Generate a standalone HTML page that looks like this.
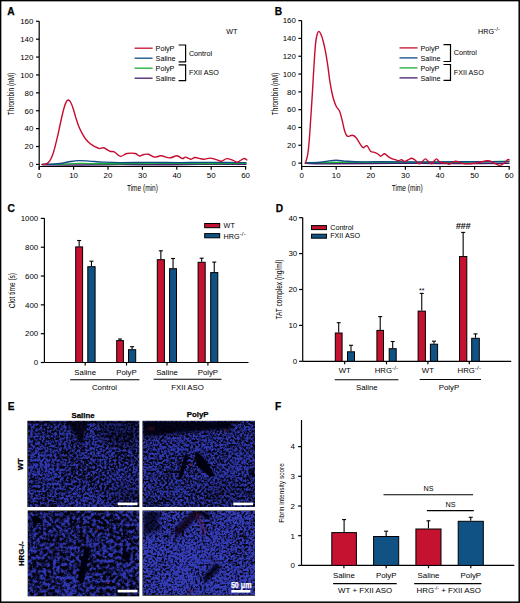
<!DOCTYPE html>
<html><head><meta charset="utf-8"><style>
html,body{margin:0;padding:0;background:#fff;}
svg{display:block;}
text{font-family:"Liberation Sans", sans-serif;}
</style></head><body>
<svg width="520" height="603" viewBox="0 0 520 603" font-family="Liberation Sans, sans-serif">
<rect width="520" height="603" fill="#fff"/>
<defs><filter id="t1" x="0" y="0" width="100%" height="100%" filterUnits="objectBoundingBox" color-interpolation-filters="sRGB">
<feTurbulence type="fractalNoise" baseFrequency="0.42" numOctaves="3" seed="2" result="n1"/>
<feColorMatrix in="n1" type="matrix" values="0 0 0 0 0  0 0 0 0 0  1 0 0 0 0  0 0 0 0 1" result="h"/>
<feTurbulence type="fractalNoise" baseFrequency="0.035" numOctaves="2" seed="22" result="n2"/>
<feColorMatrix in="n2" type="matrix" values="0 0 0 0 0  0 0 0 0 0  1 0 0 0 0  0 0 0 0 1" result="l"/>
<feComposite in="h" in2="l" operator="arithmetic" k1="0" k2="1" k3="0.2" k4="-0.1"/>
<feComponentTransfer><feFuncB type="linear" slope="3.9" intercept="-1.45"/></feComponentTransfer>
<feColorMatrix type="matrix" values="0 0 0.17 0 0.015  0 0 0.2 0 0.015  0 0 0.62 0 0.06  0 0 0 0 1"/>
<feGaussianBlur stdDeviation="0.45"/>
</filter><filter id="t2" x="0" y="0" width="100%" height="100%" filterUnits="objectBoundingBox" color-interpolation-filters="sRGB">
<feTurbulence type="fractalNoise" baseFrequency="0.45" numOctaves="3" seed="7" result="n1"/>
<feColorMatrix in="n1" type="matrix" values="0 0 0 0 0  0 0 0 0 0  1 0 0 0 0  0 0 0 0 1" result="h"/>
<feTurbulence type="fractalNoise" baseFrequency="0.035" numOctaves="2" seed="27" result="n2"/>
<feColorMatrix in="n2" type="matrix" values="0 0 0 0 0  0 0 0 0 0  1 0 0 0 0  0 0 0 0 1" result="l"/>
<feComposite in="h" in2="l" operator="arithmetic" k1="0" k2="1" k3="0.2" k4="-0.1"/>
<feComponentTransfer><feFuncB type="linear" slope="3.8" intercept="-1.35"/></feComponentTransfer>
<feColorMatrix type="matrix" values="0 0 0.17 0 0.015  0 0 0.2 0 0.015  0 0 0.62 0 0.06  0 0 0 0 1"/>
<feGaussianBlur stdDeviation="0.45"/>
</filter><filter id="t3" x="0" y="0" width="100%" height="100%" filterUnits="objectBoundingBox" color-interpolation-filters="sRGB">
<feTurbulence type="fractalNoise" baseFrequency="0.3" numOctaves="3" seed="11" result="n1"/>
<feColorMatrix in="n1" type="matrix" values="0 0 0 0 0  0 0 0 0 0  1 0 0 0 0  0 0 0 0 1" result="h"/>
<feTurbulence type="fractalNoise" baseFrequency="0.035" numOctaves="2" seed="31" result="n2"/>
<feColorMatrix in="n2" type="matrix" values="0 0 0 0 0  0 0 0 0 0  1 0 0 0 0  0 0 0 0 1" result="l"/>
<feComposite in="h" in2="l" operator="arithmetic" k1="0" k2="1" k3="0.2" k4="-0.1"/>
<feComponentTransfer><feFuncB type="linear" slope="3.6" intercept="-1.4"/></feComponentTransfer>
<feColorMatrix type="matrix" values="0 0 0.17 0 0.015  0 0 0.2 0 0.015  0 0 0.64 0 0.06  0 0 0 0 1"/>
<feGaussianBlur stdDeviation="0.5"/>
</filter><filter id="t4" x="0" y="0" width="100%" height="100%" filterUnits="objectBoundingBox" color-interpolation-filters="sRGB">
<feTurbulence type="fractalNoise" baseFrequency="0.45" numOctaves="3" seed="5" result="n1"/>
<feColorMatrix in="n1" type="matrix" values="0 0 0 0 0  0 0 0 0 0  1 0 0 0 0  0 0 0 0 1" result="h"/>
<feTurbulence type="fractalNoise" baseFrequency="0.035" numOctaves="2" seed="25" result="n2"/>
<feColorMatrix in="n2" type="matrix" values="0 0 0 0 0  0 0 0 0 0  1 0 0 0 0  0 0 0 0 1" result="l"/>
<feComposite in="h" in2="l" operator="arithmetic" k1="0" k2="1" k3="0.2" k4="-0.1"/>
<feComponentTransfer><feFuncB type="linear" slope="3.6" intercept="-1.05"/></feComponentTransfer>
<feColorMatrix type="matrix" values="0 0 0.19 0 0.015  0 0 0.22 0 0.015  0 0 0.66 0 0.06  0 0 0 0 1"/>
<feGaussianBlur stdDeviation="0.45"/>
</filter><filter id="b05" x="-50%" y="-50%" width="200%" height="200%"><feGaussianBlur stdDeviation="0.5"/></filter><filter id="b1" x="-50%" y="-50%" width="200%" height="200%"><feGaussianBlur stdDeviation="1"/></filter><filter id="b15" x="-50%" y="-50%" width="200%" height="200%"><feGaussianBlur stdDeviation="1.5"/></filter><filter id="b2" x="-50%" y="-50%" width="200%" height="200%"><feGaussianBlur stdDeviation="2"/></filter><filter id="b3" x="-50%" y="-50%" width="200%" height="200%"><feGaussianBlur stdDeviation="3"/></filter><filter id="b4" x="-50%" y="-50%" width="200%" height="200%"><feGaussianBlur stdDeviation="4"/></filter></defs>
<text x="7.20" y="15.10" font-size="10.20" text-anchor="start" font-weight="bold" fill="#000"  stroke="#000" stroke-width="0.25">A</text>
<line x1="39.20" y1="21.30" x2="39.20" y2="169.80" stroke="#000" stroke-width="1.20"/>
<line x1="36.00" y1="164.40" x2="39.20" y2="164.40" stroke="#000" stroke-width="1.20"/>
<text x="33.40" y="167.20" font-size="7.90" text-anchor="end" font-weight="normal" fill="#000" >0</text>
<line x1="36.00" y1="146.51" x2="39.20" y2="146.51" stroke="#000" stroke-width="1.20"/>
<text x="33.40" y="149.31" font-size="7.90" text-anchor="end" font-weight="normal" fill="#000" >20</text>
<line x1="36.00" y1="128.62" x2="39.20" y2="128.62" stroke="#000" stroke-width="1.20"/>
<text x="33.40" y="131.42" font-size="7.90" text-anchor="end" font-weight="normal" fill="#000" >40</text>
<line x1="36.00" y1="110.73" x2="39.20" y2="110.73" stroke="#000" stroke-width="1.20"/>
<text x="33.40" y="113.53" font-size="7.90" text-anchor="end" font-weight="normal" fill="#000" >60</text>
<line x1="36.00" y1="92.84" x2="39.20" y2="92.84" stroke="#000" stroke-width="1.20"/>
<text x="33.40" y="95.64" font-size="7.90" text-anchor="end" font-weight="normal" fill="#000" >80</text>
<line x1="36.00" y1="74.95" x2="39.20" y2="74.95" stroke="#000" stroke-width="1.20"/>
<text x="33.40" y="77.75" font-size="7.90" text-anchor="end" font-weight="normal" fill="#000" >100</text>
<line x1="36.00" y1="57.06" x2="39.20" y2="57.06" stroke="#000" stroke-width="1.20"/>
<text x="33.40" y="59.86" font-size="7.90" text-anchor="end" font-weight="normal" fill="#000" >120</text>
<line x1="36.00" y1="39.17" x2="39.20" y2="39.17" stroke="#000" stroke-width="1.20"/>
<text x="33.40" y="41.97" font-size="7.90" text-anchor="end" font-weight="normal" fill="#000" >140</text>
<line x1="36.00" y1="21.28" x2="39.20" y2="21.28" stroke="#000" stroke-width="1.20"/>
<text x="33.40" y="24.08" font-size="7.90" text-anchor="end" font-weight="normal" fill="#000" >160</text>
<line x1="39.20" y1="166.50" x2="246.20" y2="166.50" stroke="#000" stroke-width="1.20"/>
<line x1="39.20" y1="166.50" x2="39.20" y2="169.80" stroke="#000" stroke-width="1.20"/>
<text x="39.20" y="178.10" font-size="7.90" text-anchor="middle" font-weight="normal" fill="#000" >0</text>
<line x1="73.60" y1="166.50" x2="73.60" y2="169.80" stroke="#000" stroke-width="1.20"/>
<text x="73.60" y="178.10" font-size="7.90" text-anchor="middle" font-weight="normal" fill="#000" >10</text>
<line x1="108.00" y1="166.50" x2="108.00" y2="169.80" stroke="#000" stroke-width="1.20"/>
<text x="108.00" y="178.10" font-size="7.90" text-anchor="middle" font-weight="normal" fill="#000" >20</text>
<line x1="142.40" y1="166.50" x2="142.40" y2="169.80" stroke="#000" stroke-width="1.20"/>
<text x="142.40" y="178.10" font-size="7.90" text-anchor="middle" font-weight="normal" fill="#000" >30</text>
<line x1="176.80" y1="166.50" x2="176.80" y2="169.80" stroke="#000" stroke-width="1.20"/>
<text x="176.80" y="178.10" font-size="7.90" text-anchor="middle" font-weight="normal" fill="#000" >40</text>
<line x1="211.20" y1="166.50" x2="211.20" y2="169.80" stroke="#000" stroke-width="1.20"/>
<text x="211.20" y="178.10" font-size="7.90" text-anchor="middle" font-weight="normal" fill="#000" >50</text>
<line x1="245.60" y1="166.50" x2="245.60" y2="169.80" stroke="#000" stroke-width="1.20"/>
<text x="245.60" y="178.10" font-size="7.90" text-anchor="middle" font-weight="normal" fill="#000" >60</text>
<text x="142.40" y="190.50" font-size="8.20" text-anchor="middle" font-weight="normal" fill="#000" textLength="31" lengthAdjust="spacingAndGlyphs">Time (min)</text>
<text transform="translate(14.00,94.00) rotate(-90)" font-size="8.2" text-anchor="middle" textLength="42.3" lengthAdjust="spacingAndGlyphs">Thrombin (nM)</text>
<path d="M42.20,164.80 C48.50,164.83 67.03,165.03 80.00,165.00 C92.97,164.97 106.67,164.63 120.00,164.60 C133.33,164.57 146.67,164.83 160.00,164.80 C173.33,164.77 185.67,164.50 200.00,164.40 C214.33,164.30 238.33,164.23 246.00,164.20" fill="none" stroke="#4a1a6c" stroke-width="1.4" stroke-linejoin="round" stroke-linecap="round"/>
<path d="M42.20,164.40 C45.17,164.37 53.70,164.37 60.00,164.20 C66.30,164.03 73.33,163.47 80.00,163.40 C86.67,163.33 91.67,163.77 100.00,163.80 C108.33,163.83 120.00,163.67 130.00,163.60 C140.00,163.53 148.33,163.40 160.00,163.40 C171.67,163.40 185.67,163.60 200.00,163.60 C214.33,163.60 238.33,163.43 246.00,163.40" fill="none" stroke="#1aad38" stroke-width="1.4" stroke-linejoin="round" stroke-linecap="round"/>
<path d="M42.20,164.40 C43.83,164.37 48.63,164.40 52.00,164.20 C55.37,164.00 59.32,163.65 62.40,163.20 C65.48,162.75 67.78,161.93 70.50,161.50 C73.22,161.07 75.60,160.67 78.70,160.60 C81.80,160.53 85.05,160.85 89.10,161.10 C93.15,161.35 97.85,161.85 103.00,162.10 C108.15,162.35 112.17,162.55 120.00,162.60 C127.83,162.65 140.00,162.40 150.00,162.40 C160.00,162.40 170.00,162.60 180.00,162.60 C190.00,162.60 199.00,162.40 210.00,162.40 C221.00,162.40 240.00,162.57 246.00,162.60" fill="none" stroke="#0e4a84" stroke-width="1.4" stroke-linejoin="round" stroke-linecap="round"/>
<path d="M42.20,164.40 C42.87,164.33 44.97,164.55 46.20,164.00 C47.43,163.45 48.55,162.55 49.60,161.10 C50.65,159.65 51.62,157.62 52.50,155.30 C53.38,152.98 54.12,150.10 54.90,147.20 C55.68,144.30 56.43,141.18 57.20,137.90 C57.97,134.62 58.73,130.98 59.50,127.50 C60.27,124.02 61.03,120.28 61.80,117.00 C62.57,113.72 63.32,110.40 64.10,107.80 C64.88,105.20 65.78,102.70 66.50,101.40 C67.22,100.10 67.73,99.90 68.40,100.00 C69.07,100.10 69.75,100.70 70.50,102.00 C71.25,103.30 72.02,105.20 72.90,107.80 C73.78,110.40 74.83,114.52 75.80,117.60 C76.77,120.68 77.65,123.68 78.70,126.30 C79.75,128.92 80.85,131.07 82.10,133.30 C83.35,135.53 84.83,137.97 86.20,139.70 C87.57,141.43 88.85,142.55 90.30,143.70 C91.75,144.85 93.37,145.78 94.90,146.60 C96.43,147.42 98.05,148.40 99.50,148.60 C100.95,148.80 101.87,147.35 103.60,147.80 C105.33,148.25 108.13,150.63 109.90,151.30 C111.67,151.97 112.43,150.95 114.20,151.80 C115.97,152.65 118.38,156.12 120.50,156.40 C122.62,156.68 124.43,153.98 126.90,153.50 C129.37,153.02 133.20,153.08 135.30,153.50 C137.40,153.92 138.05,155.83 139.50,156.00 C140.95,156.17 142.50,154.78 144.00,154.50 C145.50,154.22 146.70,153.87 148.50,154.30 C150.30,154.73 152.68,156.85 154.80,157.10 C156.92,157.35 158.73,155.67 161.20,155.80 C163.67,155.93 166.97,157.90 169.60,157.90 C172.23,157.90 174.88,155.68 177.00,155.80 C179.12,155.92 180.88,158.38 182.30,158.60 C183.72,158.82 184.08,157.00 185.50,157.10 C186.92,157.20 189.22,159.13 190.80,159.20 C192.38,159.27 192.88,157.50 195.00,157.50 C197.12,157.50 201.03,159.10 203.50,159.20 C205.97,159.30 207.68,158.03 209.80,158.10 C211.92,158.17 214.27,159.07 216.20,159.60 C218.13,160.13 219.65,161.47 221.40,161.30 C223.15,161.13 224.75,158.77 226.70,158.60 C228.65,158.43 231.33,159.70 233.10,160.30 C234.87,160.90 235.53,162.48 237.30,162.20 C239.07,161.92 242.12,158.97 243.70,158.60 C245.28,158.23 246.28,159.77 246.80,160.00" fill="none" stroke="#c60c2e" stroke-width="1.4" stroke-linejoin="round" stroke-linecap="round"/>
<line x1="134.60" y1="48.20" x2="152.60" y2="48.20" stroke="#c60c2e" stroke-width="1.30"/>
<text x="155.60" y="50.80" font-size="7.20" text-anchor="start" font-weight="normal" fill="#000" >PolyP</text>
<line x1="134.60" y1="58.20" x2="152.60" y2="58.20" stroke="#0e4a84" stroke-width="1.30"/>
<text x="155.60" y="60.80" font-size="7.20" text-anchor="start" font-weight="normal" fill="#000" >Saline</text>
<line x1="134.60" y1="68.20" x2="152.60" y2="68.20" stroke="#1aad38" stroke-width="1.30"/>
<text x="155.60" y="70.80" font-size="7.20" text-anchor="start" font-weight="normal" fill="#000" >PolyP</text>
<line x1="134.60" y1="78.20" x2="152.60" y2="78.20" stroke="#4a1a6c" stroke-width="1.30"/>
<text x="155.60" y="80.80" font-size="7.20" text-anchor="start" font-weight="normal" fill="#000" >Saline</text>
<path d="M178.60,45.00 H185.60 V61.80 H178.60" fill="none" stroke="#000" stroke-width="1.2"/>
<path d="M178.60,64.80 H185.60 V80.60 H178.60" fill="none" stroke="#000" stroke-width="1.2"/>
<text x="188.90" y="55.90" font-size="7.20" text-anchor="start" font-weight="normal" fill="#000" >Control</text>
<text x="188.90" y="75.20" font-size="7.20" text-anchor="start" font-weight="normal" fill="#000" >FXII ASO</text>
<text x="226.3" y="34.3" font-size="7.2">WT</text>
<text x="274.80" y="15.10" font-size="10.20" text-anchor="start" font-weight="bold" fill="#000"  stroke="#000" stroke-width="0.25">B</text>
<line x1="301.60" y1="20.60" x2="301.60" y2="169.80" stroke="#000" stroke-width="1.20"/>
<line x1="298.40" y1="163.10" x2="301.60" y2="163.10" stroke="#000" stroke-width="1.20"/>
<text x="295.80" y="165.90" font-size="7.90" text-anchor="end" font-weight="normal" fill="#000" >0</text>
<line x1="298.40" y1="145.29" x2="301.60" y2="145.29" stroke="#000" stroke-width="1.20"/>
<text x="295.80" y="148.09" font-size="7.90" text-anchor="end" font-weight="normal" fill="#000" >20</text>
<line x1="298.40" y1="127.48" x2="301.60" y2="127.48" stroke="#000" stroke-width="1.20"/>
<text x="295.80" y="130.28" font-size="7.90" text-anchor="end" font-weight="normal" fill="#000" >40</text>
<line x1="298.40" y1="109.67" x2="301.60" y2="109.67" stroke="#000" stroke-width="1.20"/>
<text x="295.80" y="112.47" font-size="7.90" text-anchor="end" font-weight="normal" fill="#000" >60</text>
<line x1="298.40" y1="91.86" x2="301.60" y2="91.86" stroke="#000" stroke-width="1.20"/>
<text x="295.80" y="94.66" font-size="7.90" text-anchor="end" font-weight="normal" fill="#000" >80</text>
<line x1="298.40" y1="74.05" x2="301.60" y2="74.05" stroke="#000" stroke-width="1.20"/>
<text x="295.80" y="76.85" font-size="7.90" text-anchor="end" font-weight="normal" fill="#000" >100</text>
<line x1="298.40" y1="56.24" x2="301.60" y2="56.24" stroke="#000" stroke-width="1.20"/>
<text x="295.80" y="59.04" font-size="7.90" text-anchor="end" font-weight="normal" fill="#000" >120</text>
<line x1="298.40" y1="38.43" x2="301.60" y2="38.43" stroke="#000" stroke-width="1.20"/>
<text x="295.80" y="41.23" font-size="7.90" text-anchor="end" font-weight="normal" fill="#000" >140</text>
<line x1="298.40" y1="20.62" x2="301.60" y2="20.62" stroke="#000" stroke-width="1.20"/>
<text x="295.80" y="23.42" font-size="7.90" text-anchor="end" font-weight="normal" fill="#000" >160</text>
<line x1="301.60" y1="166.50" x2="509.80" y2="166.50" stroke="#000" stroke-width="1.20"/>
<line x1="301.60" y1="166.50" x2="301.60" y2="169.80" stroke="#000" stroke-width="1.20"/>
<text x="301.60" y="178.10" font-size="7.90" text-anchor="middle" font-weight="normal" fill="#000" >0</text>
<line x1="336.20" y1="166.50" x2="336.20" y2="169.80" stroke="#000" stroke-width="1.20"/>
<text x="336.20" y="178.10" font-size="7.90" text-anchor="middle" font-weight="normal" fill="#000" >10</text>
<line x1="370.80" y1="166.50" x2="370.80" y2="169.80" stroke="#000" stroke-width="1.20"/>
<text x="370.80" y="178.10" font-size="7.90" text-anchor="middle" font-weight="normal" fill="#000" >20</text>
<line x1="405.40" y1="166.50" x2="405.40" y2="169.80" stroke="#000" stroke-width="1.20"/>
<text x="405.40" y="178.10" font-size="7.90" text-anchor="middle" font-weight="normal" fill="#000" >30</text>
<line x1="440.00" y1="166.50" x2="440.00" y2="169.80" stroke="#000" stroke-width="1.20"/>
<text x="440.00" y="178.10" font-size="7.90" text-anchor="middle" font-weight="normal" fill="#000" >40</text>
<line x1="474.60" y1="166.50" x2="474.60" y2="169.80" stroke="#000" stroke-width="1.20"/>
<text x="474.60" y="178.10" font-size="7.90" text-anchor="middle" font-weight="normal" fill="#000" >50</text>
<line x1="509.20" y1="166.50" x2="509.20" y2="169.80" stroke="#000" stroke-width="1.20"/>
<text x="509.20" y="178.10" font-size="7.90" text-anchor="middle" font-weight="normal" fill="#000" >60</text>
<text x="407.20" y="190.50" font-size="8.20" text-anchor="middle" font-weight="normal" fill="#000" textLength="31" lengthAdjust="spacingAndGlyphs">Time (min)</text>
<text transform="translate(277.80,94.00) rotate(-90)" font-size="8.2" text-anchor="middle" textLength="42.3" lengthAdjust="spacingAndGlyphs">Thrombin (nM)</text>
<path d="M305.40,163.40 C309.50,163.47 319.23,163.78 330.00,163.80 C340.77,163.82 355.00,163.58 370.00,163.50 C385.00,163.42 405.00,163.28 420.00,163.30 C435.00,163.32 445.17,163.62 460.00,163.60 C474.83,163.58 500.83,163.27 509.00,163.20" fill="none" stroke="#4a1a6c" stroke-width="1.4" stroke-linejoin="round" stroke-linecap="round"/>
<path d="M305.40,162.60 C311.17,162.57 327.57,162.47 340.00,162.40 C352.43,162.33 366.67,162.20 380.00,162.20 C393.33,162.20 406.67,162.40 420.00,162.40 C433.33,162.40 445.17,162.40 460.00,162.20 C474.83,162.00 500.83,161.37 509.00,161.20" fill="none" stroke="#1aad38" stroke-width="1.4" stroke-linejoin="round" stroke-linecap="round"/>
<path d="M305.40,162.80 C307.58,162.75 314.78,162.78 318.50,162.50 C322.22,162.22 324.75,161.47 327.70,161.10 C330.65,160.73 333.38,160.30 336.20,160.30 C339.02,160.30 341.40,160.85 344.60,161.10 C347.80,161.35 349.50,161.68 355.40,161.80 C361.30,161.92 369.23,161.77 380.00,161.80 C390.77,161.83 406.67,162.00 420.00,162.00 C433.33,162.00 445.17,161.87 460.00,161.80 C474.83,161.73 500.83,161.63 509.00,161.60" fill="none" stroke="#0e4a84" stroke-width="1.4" stroke-linejoin="round" stroke-linecap="round"/>
<path d="M305.40,163.20 C305.78,161.77 307.07,158.33 307.70,154.60 C308.33,150.87 308.68,146.95 309.20,140.80 C309.72,134.65 310.30,125.17 310.80,117.70 C311.30,110.23 311.78,102.75 312.20,96.00 C312.62,89.25 312.92,83.62 313.30,77.20 C313.68,70.78 314.10,63.30 314.50,57.50 C314.90,51.70 315.25,46.27 315.70,42.40 C316.15,38.53 316.67,36.13 317.20,34.30 C317.73,32.47 318.28,31.40 318.90,31.40 C319.52,31.40 320.18,32.67 320.90,34.30 C321.62,35.93 322.43,38.30 323.20,41.20 C323.97,44.10 324.73,47.63 325.50,51.70 C326.27,55.77 327.12,60.97 327.80,65.60 C328.48,70.23 328.93,75.10 329.60,79.50 C330.27,83.90 331.10,88.58 331.80,92.00 C332.50,95.42 333.07,97.63 333.80,100.00 C334.53,102.37 335.22,104.28 336.20,106.20 C337.18,108.12 338.68,109.07 339.70,111.50 C340.72,113.93 341.48,117.58 342.30,120.80 C343.12,124.02 343.75,128.23 344.60,130.80 C345.45,133.37 346.12,135.47 347.40,136.20 C348.68,136.93 350.83,134.95 352.30,135.20 C353.77,135.45 354.92,136.27 356.20,137.70 C357.48,139.13 358.85,142.13 360.00,143.80 C361.15,145.47 361.95,147.38 363.10,147.70 C364.25,148.02 365.62,145.07 366.90,145.70 C368.18,146.33 369.52,150.40 370.80,151.50 C372.08,152.60 373.40,151.88 374.60,152.30 C375.80,152.72 376.97,153.35 378.00,154.00 C379.03,154.65 379.70,156.23 380.80,156.20 C381.90,156.17 383.32,153.68 384.60,153.80 C385.88,153.92 387.22,156.07 388.50,156.90 C389.78,157.73 391.15,158.33 392.30,158.80 C393.45,159.27 394.37,159.37 395.40,159.70 C396.43,160.03 397.48,160.80 398.50,160.80 C399.52,160.80 400.48,159.58 401.50,159.70 C402.52,159.82 403.43,161.50 404.60,161.50 C405.77,161.50 407.35,160.25 408.50,159.70 C409.65,159.15 410.35,158.10 411.50,158.20 C412.65,158.30 414.12,159.37 415.40,160.30 C416.68,161.23 418.05,163.60 419.20,163.80 C420.35,164.00 421.27,162.32 422.30,161.50 C423.33,160.68 424.37,158.90 425.40,158.90 C426.43,158.90 427.48,160.68 428.50,161.50 C429.52,162.32 430.62,163.80 431.50,163.80 C432.38,163.80 432.97,162.32 433.80,161.50 C434.63,160.68 435.60,158.90 436.50,158.90 C437.40,158.90 438.23,160.85 439.20,161.50 C440.17,162.15 441.02,162.53 442.30,162.80 C443.58,163.07 445.75,162.85 446.90,163.10 C448.05,163.35 447.78,164.62 449.20,164.30 C450.62,163.98 452.83,161.28 455.40,161.20 C457.97,161.12 461.27,163.48 464.60,163.80 C467.93,164.12 471.55,163.60 475.40,163.10 C479.25,162.60 484.60,160.82 487.70,160.80 C490.80,160.78 491.95,162.23 494.00,163.00 C496.05,163.77 498.23,165.43 500.00,165.40 C501.77,165.37 503.32,163.75 504.60,162.80 C505.88,161.85 506.95,160.20 507.70,159.70 C508.45,159.20 508.87,159.78 509.10,159.80" fill="none" stroke="#c60c2e" stroke-width="1.4" stroke-linejoin="round" stroke-linecap="round"/>
<line x1="399.50" y1="47.90" x2="417.50" y2="47.90" stroke="#c60c2e" stroke-width="1.30"/>
<text x="420.50" y="50.50" font-size="7.20" text-anchor="start" font-weight="normal" fill="#000" >PolyP</text>
<line x1="399.50" y1="57.90" x2="417.50" y2="57.90" stroke="#0e4a84" stroke-width="1.30"/>
<text x="420.50" y="60.50" font-size="7.20" text-anchor="start" font-weight="normal" fill="#000" >Saline</text>
<line x1="399.50" y1="67.90" x2="417.50" y2="67.90" stroke="#1aad38" stroke-width="1.30"/>
<text x="420.50" y="70.50" font-size="7.20" text-anchor="start" font-weight="normal" fill="#000" >PolyP</text>
<line x1="399.50" y1="77.90" x2="417.50" y2="77.90" stroke="#4a1a6c" stroke-width="1.30"/>
<text x="420.50" y="80.50" font-size="7.20" text-anchor="start" font-weight="normal" fill="#000" >Saline</text>
<path d="M443.50,44.70 H450.50 V61.50 H443.50" fill="none" stroke="#000" stroke-width="1.2"/>
<path d="M443.50,64.50 H450.50 V80.30 H443.50" fill="none" stroke="#000" stroke-width="1.2"/>
<text x="453.80" y="54.70" font-size="7.20" text-anchor="start" font-weight="normal" fill="#000" >Control</text>
<text x="453.80" y="74.90" font-size="7.20" text-anchor="start" font-weight="normal" fill="#000" >FXII ASO</text>
<text x="478" y="34.3" font-size="7.2">HRG<tspan font-size="6" dy="-3.2" letter-spacing="0.2">-/-</tspan></text>
<text x="7.60" y="212.00" font-size="10.20" text-anchor="start" font-weight="bold" fill="#000"  stroke="#000" stroke-width="0.25">C</text>
<line x1="44.40" y1="218.30" x2="44.40" y2="362.50" stroke="#000" stroke-width="1.20"/>
<line x1="40.80" y1="362.50" x2="44.40" y2="362.50" stroke="#000" stroke-width="1.20"/>
<text x="38.20" y="365.30" font-size="7.90" text-anchor="end" font-weight="normal" fill="#000" >0</text>
<line x1="40.80" y1="333.68" x2="44.40" y2="333.68" stroke="#000" stroke-width="1.20"/>
<text x="38.20" y="336.48" font-size="7.90" text-anchor="end" font-weight="normal" fill="#000" >200</text>
<line x1="40.80" y1="304.86" x2="44.40" y2="304.86" stroke="#000" stroke-width="1.20"/>
<text x="38.20" y="307.66" font-size="7.90" text-anchor="end" font-weight="normal" fill="#000" >400</text>
<line x1="40.80" y1="276.04" x2="44.40" y2="276.04" stroke="#000" stroke-width="1.20"/>
<text x="38.20" y="278.84" font-size="7.90" text-anchor="end" font-weight="normal" fill="#000" >600</text>
<line x1="40.80" y1="247.22" x2="44.40" y2="247.22" stroke="#000" stroke-width="1.20"/>
<text x="38.20" y="250.02" font-size="7.90" text-anchor="end" font-weight="normal" fill="#000" >800</text>
<line x1="40.80" y1="218.40" x2="44.40" y2="218.40" stroke="#000" stroke-width="1.20"/>
<text x="38.20" y="221.20" font-size="7.90" text-anchor="end" font-weight="normal" fill="#000" >1000</text>
<line x1="44.40" y1="362.50" x2="248.50" y2="362.50" stroke="#000" stroke-width="1.20"/>
<line x1="79.15" y1="246.40" x2="79.15" y2="240.50" stroke="#000" stroke-width="1.10"/>
<line x1="77.15" y1="240.50" x2="81.15" y2="240.50" stroke="#000" stroke-width="1.10"/>
<rect x="75.70" y="246.90" width="6.90" height="115.60" fill="#c41230" stroke="#000" stroke-width="1"/>
<line x1="91.45" y1="266.20" x2="91.45" y2="261.20" stroke="#000" stroke-width="1.10"/>
<line x1="89.45" y1="261.20" x2="93.45" y2="261.20" stroke="#000" stroke-width="1.10"/>
<rect x="87.80" y="266.70" width="7.30" height="95.80" fill="#105284" stroke="#000" stroke-width="1"/>
<line x1="120.05" y1="340.10" x2="120.05" y2="339.00" stroke="#000" stroke-width="1.10"/>
<line x1="118.05" y1="339.00" x2="122.05" y2="339.00" stroke="#000" stroke-width="1.10"/>
<rect x="116.70" y="340.60" width="6.70" height="21.90" fill="#c41230" stroke="#000" stroke-width="1"/>
<line x1="132.10" y1="349.20" x2="132.10" y2="346.70" stroke="#000" stroke-width="1.10"/>
<line x1="130.10" y1="346.70" x2="134.10" y2="346.70" stroke="#000" stroke-width="1.10"/>
<rect x="128.50" y="349.70" width="7.20" height="12.80" fill="#105284" stroke="#000" stroke-width="1"/>
<line x1="160.85" y1="259.20" x2="160.85" y2="250.80" stroke="#000" stroke-width="1.10"/>
<line x1="158.85" y1="250.80" x2="162.85" y2="250.80" stroke="#000" stroke-width="1.10"/>
<rect x="157.30" y="259.70" width="7.10" height="102.80" fill="#c41230" stroke="#000" stroke-width="1"/>
<line x1="173.05" y1="268.20" x2="173.05" y2="258.50" stroke="#000" stroke-width="1.10"/>
<line x1="171.05" y1="258.50" x2="175.05" y2="258.50" stroke="#000" stroke-width="1.10"/>
<rect x="169.60" y="268.70" width="6.90" height="93.80" fill="#105284" stroke="#000" stroke-width="1"/>
<line x1="201.65" y1="261.80" x2="201.65" y2="258.20" stroke="#000" stroke-width="1.10"/>
<line x1="199.65" y1="258.20" x2="203.65" y2="258.20" stroke="#000" stroke-width="1.10"/>
<rect x="198.10" y="262.30" width="7.10" height="100.20" fill="#c41230" stroke="#000" stroke-width="1"/>
<line x1="214.25" y1="272.10" x2="214.25" y2="262.10" stroke="#000" stroke-width="1.10"/>
<line x1="212.25" y1="262.10" x2="216.25" y2="262.10" stroke="#000" stroke-width="1.10"/>
<rect x="210.70" y="272.60" width="7.10" height="89.90" fill="#105284" stroke="#000" stroke-width="1"/>
<line x1="85.20" y1="362.50" x2="85.20" y2="365.50" stroke="#000" stroke-width="1.20"/>
<text x="85.20" y="374.50" font-size="7.80" text-anchor="middle" font-weight="normal" fill="#000" >Saline</text>
<line x1="126.50" y1="362.50" x2="126.50" y2="365.50" stroke="#000" stroke-width="1.20"/>
<text x="126.50" y="374.50" font-size="7.80" text-anchor="middle" font-weight="normal" fill="#000" >PolyP</text>
<line x1="167.00" y1="362.50" x2="167.00" y2="365.50" stroke="#000" stroke-width="1.20"/>
<text x="167.00" y="374.50" font-size="7.80" text-anchor="middle" font-weight="normal" fill="#000" >Saline</text>
<line x1="207.90" y1="362.50" x2="207.90" y2="365.50" stroke="#000" stroke-width="1.20"/>
<text x="207.90" y="374.50" font-size="7.80" text-anchor="middle" font-weight="normal" fill="#000" >PolyP</text>
<line x1="70.20" y1="379.80" x2="139.40" y2="379.80" stroke="#000" stroke-width="1.10"/>
<text x="104.50" y="389.60" font-size="7.80" text-anchor="middle" font-weight="normal" fill="#000" >Control</text>
<line x1="153.60" y1="379.30" x2="221.50" y2="379.30" stroke="#000" stroke-width="1.10"/>
<text x="187.50" y="389.50" font-size="7.80" text-anchor="middle" font-weight="normal" fill="#000" >FXII ASO</text>
<text transform="translate(15.3,290.6) rotate(-90)" font-size="8.4" text-anchor="middle" textLength="35.2" lengthAdjust="spacingAndGlyphs">Clot time (s)</text>
<rect x="204.7" y="223.5" width="15" height="4.2" fill="#c41230" stroke="#000" stroke-width="1"/>
<rect x="204.7" y="233.6" width="15" height="4.2" fill="#105284" stroke="#000" stroke-width="1"/>
<text x="223.60" y="227.80" font-size="7.20" text-anchor="start" font-weight="normal" fill="#000" >WT</text>
<text x="223.60" y="239.20" font-size="7.20" text-anchor="start" font-weight="normal" fill="#000" >HRG<tspan font-size="6" dy="-3.2" letter-spacing="0.2">-/-</tspan></text>
<text x="275.80" y="211.60" font-size="10.20" text-anchor="start" font-weight="bold" fill="#000"  stroke="#000" stroke-width="0.25">D</text>
<line x1="302.70" y1="217.50" x2="302.70" y2="361.30" stroke="#000" stroke-width="1.20"/>
<line x1="299.10" y1="361.30" x2="302.70" y2="361.30" stroke="#000" stroke-width="1.20"/>
<text x="297.20" y="364.10" font-size="7.90" text-anchor="end" font-weight="normal" fill="#000" >0</text>
<line x1="299.10" y1="325.40" x2="302.70" y2="325.40" stroke="#000" stroke-width="1.20"/>
<text x="297.20" y="328.20" font-size="7.90" text-anchor="end" font-weight="normal" fill="#000" >10</text>
<line x1="299.10" y1="289.50" x2="302.70" y2="289.50" stroke="#000" stroke-width="1.20"/>
<text x="297.20" y="292.30" font-size="7.90" text-anchor="end" font-weight="normal" fill="#000" >20</text>
<line x1="299.10" y1="253.60" x2="302.70" y2="253.60" stroke="#000" stroke-width="1.20"/>
<text x="297.20" y="256.40" font-size="7.90" text-anchor="end" font-weight="normal" fill="#000" >30</text>
<line x1="299.10" y1="217.70" x2="302.70" y2="217.70" stroke="#000" stroke-width="1.20"/>
<text x="297.20" y="220.50" font-size="7.90" text-anchor="end" font-weight="normal" fill="#000" >40</text>
<line x1="302.70" y1="361.30" x2="511.20" y2="361.30" stroke="#000" stroke-width="1.20"/>
<line x1="338.70" y1="332.50" x2="338.70" y2="322.70" stroke="#000" stroke-width="1.10"/>
<line x1="336.70" y1="322.70" x2="340.70" y2="322.70" stroke="#000" stroke-width="1.10"/>
<rect x="335.30" y="333.00" width="6.80" height="28.30" fill="#c41230" stroke="#000" stroke-width="1"/>
<line x1="351.00" y1="351.30" x2="351.00" y2="345.30" stroke="#000" stroke-width="1.10"/>
<line x1="349.00" y1="345.30" x2="353.00" y2="345.30" stroke="#000" stroke-width="1.10"/>
<rect x="347.50" y="351.80" width="7.00" height="9.50" fill="#105284" stroke="#000" stroke-width="1"/>
<line x1="380.20" y1="329.90" x2="380.20" y2="316.60" stroke="#000" stroke-width="1.10"/>
<line x1="378.20" y1="316.60" x2="382.20" y2="316.60" stroke="#000" stroke-width="1.10"/>
<rect x="376.90" y="330.40" width="6.60" height="30.90" fill="#c41230" stroke="#000" stroke-width="1"/>
<line x1="392.70" y1="348.20" x2="392.70" y2="341.50" stroke="#000" stroke-width="1.10"/>
<line x1="390.70" y1="341.50" x2="394.70" y2="341.50" stroke="#000" stroke-width="1.10"/>
<rect x="389.20" y="348.70" width="7.00" height="12.60" fill="#105284" stroke="#000" stroke-width="1"/>
<line x1="421.75" y1="310.60" x2="421.75" y2="293.40" stroke="#000" stroke-width="1.10"/>
<line x1="419.75" y1="293.40" x2="423.75" y2="293.40" stroke="#000" stroke-width="1.10"/>
<rect x="418.10" y="311.10" width="7.30" height="50.20" fill="#c41230" stroke="#000" stroke-width="1"/>
<line x1="434.00" y1="343.70" x2="434.00" y2="341.20" stroke="#000" stroke-width="1.10"/>
<line x1="432.00" y1="341.20" x2="436.00" y2="341.20" stroke="#000" stroke-width="1.10"/>
<rect x="430.40" y="344.20" width="7.20" height="17.10" fill="#105284" stroke="#000" stroke-width="1"/>
<line x1="463.15" y1="256.00" x2="463.15" y2="232.40" stroke="#000" stroke-width="1.10"/>
<line x1="461.15" y1="232.40" x2="465.15" y2="232.40" stroke="#000" stroke-width="1.10"/>
<rect x="459.50" y="256.50" width="7.30" height="104.80" fill="#c41230" stroke="#000" stroke-width="1"/>
<line x1="475.50" y1="337.80" x2="475.50" y2="333.90" stroke="#000" stroke-width="1.10"/>
<line x1="473.50" y1="333.90" x2="477.50" y2="333.90" stroke="#000" stroke-width="1.10"/>
<rect x="471.70" y="338.30" width="7.60" height="23.00" fill="#105284" stroke="#000" stroke-width="1"/>
<line x1="344.70" y1="361.30" x2="344.70" y2="364.30" stroke="#000" stroke-width="1.20"/>
<text x="344.70" y="373.00" font-size="7.80" text-anchor="middle" font-weight="normal" fill="#000" >WT</text>
<line x1="386.50" y1="361.30" x2="386.50" y2="364.30" stroke="#000" stroke-width="1.20"/>
<text x="386.50" y="373.00" font-size="7.80" text-anchor="middle" font-weight="normal" fill="#000" >HRG<tspan font-size="6" dy="-3.2" letter-spacing="0.2">-/-</tspan></text>
<line x1="427.90" y1="361.30" x2="427.90" y2="364.30" stroke="#000" stroke-width="1.20"/>
<text x="427.90" y="373.00" font-size="7.80" text-anchor="middle" font-weight="normal" fill="#000" >WT</text>
<line x1="469.30" y1="361.30" x2="469.30" y2="364.30" stroke="#000" stroke-width="1.20"/>
<text x="469.30" y="373.00" font-size="7.80" text-anchor="middle" font-weight="normal" fill="#000" >HRG<tspan font-size="6" dy="-3.2" letter-spacing="0.2">-/-</tspan></text>
<line x1="334.70" y1="379.80" x2="398.40" y2="379.80" stroke="#000" stroke-width="1.10"/>
<text x="366.80" y="389.90" font-size="7.80" text-anchor="middle" font-weight="normal" fill="#000" >Saline</text>
<line x1="419.70" y1="379.50" x2="481.00" y2="379.50" stroke="#000" stroke-width="1.10"/>
<text x="449.00" y="389.90" font-size="7.80" text-anchor="middle" font-weight="normal" fill="#000" >PolyP</text>
<text x="421.70" y="292.70" font-size="7.00" text-anchor="middle" font-weight="normal" fill="#000" >**</text>
<text x="463.30" y="229.00" font-size="8.40" text-anchor="middle" font-weight="normal" fill="#000" textLength="14.6" lengthAdjust="spacingAndGlyphs" stroke="#000" stroke-width="0.15">###</text>
<text transform="translate(282.3,289.6) rotate(-90)" font-size="8.2" text-anchor="middle" textLength="60" lengthAdjust="spacingAndGlyphs">TAT complex (ng/ml)</text>
<rect x="311.5" y="225.6" width="15" height="4" fill="#c41230" stroke="#000" stroke-width="1"/>
<rect x="311.5" y="234.2" width="15" height="4" fill="#105284" stroke="#000" stroke-width="1"/>
<text x="330.20" y="229.90" font-size="7.20" text-anchor="start" font-weight="normal" fill="#000" >Control</text>
<text x="330.20" y="238.40" font-size="7.20" text-anchor="start" font-weight="normal" fill="#000" >FXII ASO</text>
<text x="7.70" y="409.50" font-size="10.20" text-anchor="start" font-weight="bold" fill="#000"  stroke="#000" stroke-width="0.25">E</text>
<text x="83.00" y="418.30" font-size="7.80" text-anchor="middle" font-weight="bold" fill="#000"  stroke="#000" stroke-width="0.25">Saline</text>
<text x="197.60" y="416.50" font-size="7.80" text-anchor="middle" font-weight="bold" fill="#000"  stroke="#000" stroke-width="0.25">PolyP</text>
<text transform="translate(23.2,464.2) rotate(-90)" font-size="7.8" font-weight="bold" text-anchor="middle" stroke="#000" stroke-width="0.25">WT</text>
<text transform="translate(24.2,553.7) rotate(-90)" font-size="7.8" font-weight="bold" text-anchor="middle" stroke="#000" stroke-width="0.25">HRG-/-</text>
<g><rect x="27.40" y="420.80" width="111.90" height="86.20" fill="#000"/>
<rect x="28.30" y="421.70" width="110.10" height="84.40" filter="url(#t1)"/>
<clipPath id="ct1"><rect x="28.30" y="421.70" width="110.10" height="84.40"/></clipPath>
<g clip-path="url(#ct1)"><polygon points="27.0,420.0 140.0,420.0 140.0,423.2 27.0,423.6" fill="#05040c" opacity="0.75" filter="url(#b05)"/><ellipse cx="122.0" cy="432.0" rx="24.0" ry="13.0" transform="rotate(0.0 122.0 432.0)" fill="#05040c" opacity="0.40" filter="url(#b4)"/><ellipse cx="125.0" cy="495.0" rx="20.0" ry="14.0" transform="rotate(0.0 125.0 495.0)" fill="#05040c" opacity="0.20" filter="url(#b4)"/><polygon points="65.0,421.0 88.0,421.0 85.0,433.0 82.0,446.0 77.0,436.0" fill="#06040a" opacity="0.85" filter="url(#b1)"/><ellipse cx="82.0" cy="428.0" rx="2.0" ry="6.0" transform="rotate(-20.0 82.0 428.0)" fill="#4a1020" opacity="0.25" filter="url(#b2)"/></g>
</g>
<g><rect x="142.50" y="420.80" width="112.50" height="86.20" fill="#000"/>
<rect x="143.40" y="421.70" width="110.70" height="84.40" filter="url(#t2)"/>
<clipPath id="ct2"><rect x="143.40" y="421.70" width="110.70" height="84.40"/></clipPath>
<g clip-path="url(#ct2)"><polygon points="142.0,420.0 232.0,420.0 232.0,429.0 200.0,431.0 143.0,437.0" fill="#05040c" opacity="0.90" filter="url(#b15)"/><ellipse cx="151.0" cy="428.5" rx="4.0" ry="1.6" transform="rotate(0.0 151.0 428.5)" fill="#601424" opacity="0.50" filter="url(#b1)"/><ellipse cx="226.0" cy="430.5" rx="3.5" ry="1.4" transform="rotate(0.0 226.0 430.5)" fill="#501424" opacity="0.45" filter="url(#b1)"/><polygon points="196.0,451.5 201.0,455.0 206.0,461.0 210.0,467.0 215.0,476.0 210.0,477.0 203.0,471.0 197.0,465.0 194.5,458.0" fill="#05040c" opacity="0.95" filter="url(#b05)"/><line x1="186.5" y1="456.0" x2="180.5" y2="476.0" stroke="#05040c" stroke-width="4.0" stroke-linecap="round" opacity="0.90" filter="url(#b05)"/><ellipse cx="253.0" cy="472.5" rx="3.0" ry="4.0" transform="rotate(0.0 253.0 472.5)" fill="#05040c" opacity="0.90" filter="url(#b1)"/><ellipse cx="191.0" cy="464.5" rx="1.3" ry="1.0" transform="rotate(0.0 191.0 464.5)" fill="#a01828" opacity="0.70" filter="url(#b05)"/><ellipse cx="225.0" cy="490.0" rx="22.0" ry="12.0" transform="rotate(0.0 225.0 490.0)" fill="#05040c" opacity="0.15" filter="url(#b4)"/></g>
</g>
<g><rect x="27.70" y="510.50" width="111.60" height="85.80" fill="#000"/>
<rect x="28.60" y="511.40" width="109.80" height="84.00" filter="url(#t3)"/>
<clipPath id="ct3"><rect x="28.60" y="511.40" width="109.80" height="84.00"/></clipPath>
<g clip-path="url(#ct3)"><polygon points="88.0,547.0 90.0,550.0 87.0,565.0 84.0,582.0 80.0,584.0 78.0,578.0 81.0,562.0 85.0,549.0" fill="#05040c" opacity="0.97" filter="url(#b05)"/><ellipse cx="36.0" cy="519.5" rx="4.0" ry="3.5" transform="rotate(0.0 36.0 519.5)" fill="#05040c" opacity="0.95" filter="url(#b05)"/><ellipse cx="126.4" cy="556.0" rx="4.5" ry="4.5" transform="rotate(20.0 126.4 556.0)" fill="#05040c" opacity="0.95" filter="url(#b05)"/><ellipse cx="97.4" cy="517.5" rx="3.0" ry="2.5" transform="rotate(0.0 97.4 517.5)" fill="#05040c" opacity="0.90" filter="url(#b05)"/><ellipse cx="66.0" cy="513.0" rx="12.0" ry="3.0" transform="rotate(0.0 66.0 513.0)" fill="#05040c" opacity="0.40" filter="url(#b2)"/><ellipse cx="108.0" cy="583.0" rx="2.0" ry="1.0" transform="rotate(0.0 108.0 583.0)" fill="#901828" opacity="0.50" filter="url(#b05)"/><ellipse cx="97.0" cy="530.0" rx="1.5" ry="1.0" transform="rotate(0.0 97.0 530.0)" fill="#901828" opacity="0.50" filter="url(#b05)"/></g>
</g>
<g><rect x="142.50" y="510.50" width="112.50" height="85.20" fill="#000"/>
<rect x="143.40" y="511.40" width="110.70" height="83.40" filter="url(#t4)"/>
<clipPath id="ct4"><rect x="143.40" y="511.40" width="110.70" height="83.40"/></clipPath>
<g clip-path="url(#ct4)"><polygon points="143.0,511.0 162.0,511.0 158.0,522.0 154.0,533.0 143.0,534.0" fill="#05040c" opacity="0.75" filter="url(#b2)"/><line x1="197.0" y1="512.0" x2="178.0" y2="531.0" stroke="#100610" stroke-width="8.0" stroke-linecap="round" opacity="0.80" filter="url(#b15)"/><line x1="201.0" y1="512.0" x2="208.0" y2="517.0" stroke="#05040c" stroke-width="5.0" stroke-linecap="round" opacity="0.90" filter="url(#b1)"/><line x1="197.0" y1="514.0" x2="205.0" y2="533.0" stroke="#6a1222" stroke-width="2.5" stroke-linecap="round" opacity="0.55" filter="url(#b1)"/><line x1="217.0" y1="567.0" x2="206.0" y2="578.0" stroke="#05040c" stroke-width="6.0" stroke-linecap="round" opacity="0.90" filter="url(#b15)"/><ellipse cx="191.0" cy="591.0" rx="3.0" ry="1.5" transform="rotate(0.0 191.0 591.0)" fill="#601424" opacity="0.50" filter="url(#b1)"/><ellipse cx="158.0" cy="528.0" rx="3.0" ry="3.0" transform="rotate(0.0 158.0 528.0)" fill="#05040c" opacity="0.70" filter="url(#b1)"/></g>
</g>
<rect x="117.70" y="502.60" width="19.80" height="2.6" fill="#fff"/>
<rect x="233.30" y="502.60" width="19.70" height="2.6" fill="#fff"/>
<rect x="117.70" y="589.80" width="19.80" height="2.6" fill="#fff"/>
<rect x="231.30" y="590.00" width="19.20" height="2.6" fill="#fff"/>
<text x="241.20" y="587.80" font-size="8.40" text-anchor="middle" font-weight="bold" fill="#fff" textLength="20.6" lengthAdjust="spacingAndGlyphs" stroke="#fff" stroke-width="0.25">50 μm</text>
<text x="275.00" y="409.50" font-size="10.20" text-anchor="start" font-weight="bold" fill="#000"  stroke="#000" stroke-width="0.25">F</text>
<line x1="301.50" y1="420.00" x2="301.50" y2="565.40" stroke="#000" stroke-width="1.20"/>
<line x1="298.10" y1="565.40" x2="301.50" y2="565.40" stroke="#000" stroke-width="1.20"/>
<text x="295.00" y="568.20" font-size="7.90" text-anchor="end" font-weight="normal" fill="#000" >0</text>
<line x1="298.10" y1="535.70" x2="301.50" y2="535.70" stroke="#000" stroke-width="1.20"/>
<text x="295.00" y="538.50" font-size="7.90" text-anchor="end" font-weight="normal" fill="#000" >1</text>
<line x1="298.10" y1="506.00" x2="301.50" y2="506.00" stroke="#000" stroke-width="1.20"/>
<text x="295.00" y="508.80" font-size="7.90" text-anchor="end" font-weight="normal" fill="#000" >2</text>
<line x1="298.10" y1="476.30" x2="301.50" y2="476.30" stroke="#000" stroke-width="1.20"/>
<text x="295.00" y="479.10" font-size="7.90" text-anchor="end" font-weight="normal" fill="#000" >3</text>
<line x1="298.10" y1="446.60" x2="301.50" y2="446.60" stroke="#000" stroke-width="1.20"/>
<text x="295.00" y="449.40" font-size="7.90" text-anchor="end" font-weight="normal" fill="#000" >4</text>
<line x1="301.50" y1="565.40" x2="514.30" y2="565.40" stroke="#000" stroke-width="1.20"/>
<line x1="344.10" y1="532.10" x2="344.10" y2="519.60" stroke="#000" stroke-width="1.10"/>
<line x1="342.10" y1="519.60" x2="346.10" y2="519.60" stroke="#000" stroke-width="1.10"/>
<rect x="331.80" y="532.60" width="24.60" height="32.80" fill="#c41230" stroke="#000" stroke-width="1"/>
<line x1="386.15" y1="536.00" x2="386.15" y2="531.20" stroke="#000" stroke-width="1.10"/>
<line x1="384.15" y1="531.20" x2="388.15" y2="531.20" stroke="#000" stroke-width="1.10"/>
<rect x="373.60" y="536.50" width="25.10" height="28.90" fill="#105284" stroke="#000" stroke-width="1"/>
<line x1="428.45" y1="528.50" x2="428.45" y2="520.80" stroke="#000" stroke-width="1.10"/>
<line x1="426.45" y1="520.80" x2="430.45" y2="520.80" stroke="#000" stroke-width="1.10"/>
<rect x="415.90" y="529.00" width="25.10" height="36.40" fill="#c41230" stroke="#000" stroke-width="1"/>
<line x1="470.75" y1="520.80" x2="470.75" y2="517.30" stroke="#000" stroke-width="1.10"/>
<line x1="468.75" y1="517.30" x2="472.75" y2="517.30" stroke="#000" stroke-width="1.10"/>
<rect x="458.20" y="521.30" width="25.10" height="44.10" fill="#105284" stroke="#000" stroke-width="1"/>
<line x1="343.90" y1="565.40" x2="343.90" y2="568.20" stroke="#000" stroke-width="1.20"/>
<text x="343.90" y="578.00" font-size="7.90" text-anchor="middle" font-weight="normal" fill="#000" >Saline</text>
<line x1="386.20" y1="565.40" x2="386.20" y2="568.20" stroke="#000" stroke-width="1.20"/>
<text x="386.20" y="578.00" font-size="7.90" text-anchor="middle" font-weight="normal" fill="#000" >PolyP</text>
<line x1="428.50" y1="565.40" x2="428.50" y2="568.20" stroke="#000" stroke-width="1.20"/>
<text x="428.50" y="578.00" font-size="7.90" text-anchor="middle" font-weight="normal" fill="#000" >Saline</text>
<line x1="470.80" y1="565.40" x2="470.80" y2="568.20" stroke="#000" stroke-width="1.20"/>
<text x="470.80" y="578.00" font-size="7.90" text-anchor="middle" font-weight="normal" fill="#000" >PolyP</text>
<line x1="333.10" y1="583.60" x2="396.70" y2="583.60" stroke="#000" stroke-width="1.10"/>
<text x="365.10" y="593.10" font-size="7.90" text-anchor="middle" font-weight="normal" fill="#000" >WT + FXII ASO</text>
<line x1="414.20" y1="583.60" x2="481.50" y2="583.60" stroke="#000" stroke-width="1.10"/>
<text x="416.60" y="593.10" font-size="7.90" text-anchor="start" font-weight="normal" fill="#000" >HRG<tspan font-size="5.2" dy="-3.2">-/-</tspan><tspan dy="3.2"> + FXII ASO</tspan></text>
<line x1="383.50" y1="494.70" x2="473.10" y2="494.70" stroke="#000" stroke-width="1.10"/>
<text x="428.60" y="491.20" font-size="7.20" text-anchor="middle" font-weight="normal" fill="#000" >NS</text>
<line x1="426.90" y1="510.60" x2="473.80" y2="510.60" stroke="#000" stroke-width="1.10"/>
<text x="450.60" y="507.30" font-size="7.20" text-anchor="middle" font-weight="normal" fill="#000" >NS</text>
<text transform="translate(283.8,493) rotate(-90)" font-size="7.9" text-anchor="middle" textLength="59.6" lengthAdjust="spacingAndGlyphs">Fibrin intensity score</text>
<rect x="0.6" y="0.6" width="518.6" height="601.6" fill="none" stroke="#000" stroke-width="1.5"/>
</svg></body></html>
